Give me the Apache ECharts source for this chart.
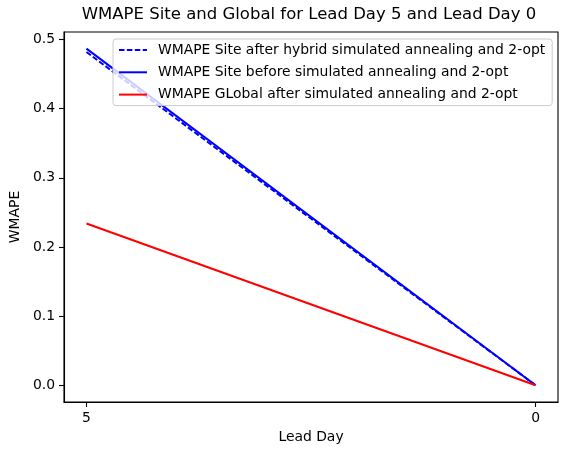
<!DOCTYPE html>
<html>
<head>
<meta charset="utf-8">
<script src="https://cdn.jsdelivr.net/npm/echarts@6/dist/echarts.min.js"></script>
<style>
html, body { margin: 0; padding: 0; background: #fff; }
#container { width: 567px; height: 455px; }
</style>
</head>
<body>
<div id="container"></div>
<script>
var leadDays = [5, 0];
var siteAfter = [0.482, 0.0];
var siteBefore = [0.487, 0.0];
var globalAfter = [0.234, 0.0];
var yTicks = [0, 0.1, 0.2, 0.3, 0.4, 0.5];
var seriesNames = [
    'WMAPE Site after hybrid simulated annealing and 2-opt',
    'WMAPE Site before simulated annealing and 2-opt',
    'WMAPE GLobal after simulated annealing and 2-opt'
];

function pairs(vals) {
    return leadDays.map(function (d, i) { return [d, vals[i]]; });
}

var font = 'DejaVu Sans';
var dom = document.getElementById("container");
var myChart = echarts.init(dom);
var option = {
    animation: false,
    textStyle: { fontFamily: font },
    title: {
        text: 'WMAPE Site and Global for Lead Day 5 and Lead Day 0',
        left: 309,
        textAlign: 'center',
        top: 6,
        padding: 0,
        textStyle: { fontSize: 16.5, fontWeight: 'normal', color: '#000', fontFamily: font }
    },
    legend: {
        orient: 'vertical',
        left: 113,
        top: 39,
        padding: [4, 7, 4, 5],
        itemWidth: 28,
        itemHeight: 14,
        itemGap: 8.3,
        backgroundColor: 'rgba(255,255,255,0.8)',
        borderColor: '#cccccc',
        borderWidth: 1,
        borderRadius: 3,
        itemStyle: { color: 'rgba(0,0,0,0)', borderWidth: 0, opacity: 0 },
        textStyle: { fontSize: 13.9, color: '#000', fontFamily: font, padding: [0, 0, 0, 6] },
        data: seriesNames
    },
    grid: {
        left: 61,
        right: 9,
        top: 32,
        bottom: 53,
        show: true,
        borderColor: '#000',
        borderWidth: 1.1
    },
    xAxis: {
        type: 'value',
        inverse: true,
        min: -0.25,
        max: 5.25,
        name: 'Lead Day',
        nameLocation: 'middle',
        nameGap: 19,
        nameTextStyle: { fontSize: 13.9, color: '#000', fontFamily: font },
        axisLine: { show: true, onZero: false, lineStyle: { color: '#000', width: 1.1 } },
        axisTick: { show: true, inside: false, length: 5, lineStyle: { color: '#000', width: 1.1 }, customValues: leadDays },
        axisLabel: { fontSize: 13.9, color: '#000', margin: 9, customValues: leadDays, fontFamily: font },
        splitLine: { show: false }
    },
    yAxis: {
        type: 'value',
        min: -0.0243,
        max: 0.511,
        name: 'WMAPE',
        nameLocation: 'middle',
        nameGap: 39,
        nameTextStyle: { fontSize: 13.9, color: '#000', fontFamily: font },
        axisLine: { show: true, onZero: false, lineStyle: { color: '#000', width: 1.1 } },
        axisTick: { show: true, inside: false, length: 5, lineStyle: { color: '#000', width: 1.1 }, customValues: yTicks },
        axisLabel: {
            fontSize: 13.9, color: '#000', margin: 9, customValues: yTicks, fontFamily: font,
            formatter: function (v) { return v.toFixed(1); }
        },
        splitLine: { show: false }
    },
    series: [
        {
            name: seriesNames[0],
            type: 'line',
            symbol: 'none',
            color: '#0000ff',
            lineStyle: { color: '#0000ff', width: 2, type: [5.5, 2.4] },
            data: pairs(siteAfter)
        },
        {
            name: seriesNames[1],
            type: 'line',
            symbol: 'none',
            color: '#0000ff',
            lineStyle: { color: '#0000ff', width: 2 },
            data: pairs(siteBefore)
        },
        {
            name: seriesNames[2],
            type: 'line',
            symbol: 'none',
            color: '#ff0000',
            lineStyle: { color: '#ff0000', width: 2 },
            data: pairs(globalAfter)
        }
    ]
};
myChart.setOption(option, true);
</script>
</body>
</html>
